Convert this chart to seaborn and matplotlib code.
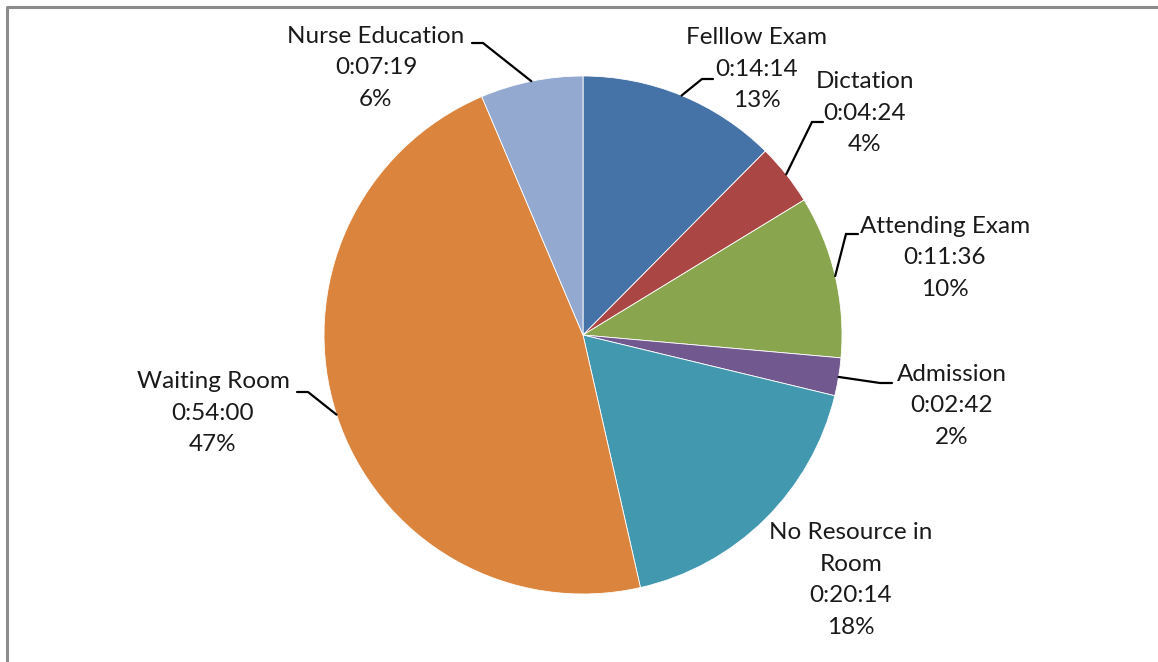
import numpy as np
import matplotlib
matplotlib.use('Agg')
import matplotlib.pyplot as plt
import seaborn as sns

# slices, clockwise from 12 o'clock
categories = ['Felllow Exam', 'Dictation', 'Attending Exam', 'Admission',
              'No Resource in\nRoom', 'Waiting Room', 'Nurse Education']
durations = ['0:14:14', '0:04:24', '0:11:36', '0:02:42', '0:20:14', '0:54:00', '0:07:19']
percent_labels = ['13%', '4%', '10%', '2%', '18%', '47%', '6%']
colors = ['#4572A7', '#AA4643', '#89A54E', '#71588F', '#4198AF', '#DB843D', '#93A9CF']


def to_seconds(s):
    h, m, sec = s.split(':')
    return int(h) * 3600 + int(m) * 60 + int(sec)


values = np.array([to_seconds(d) for d in durations])

sns.set_theme(style='white')
plt.rcParams['font.family'] = ['Lato', 'DejaVu Sans']

W, H = 1158, 662
fig = plt.figure(figsize=(W / 100, H / 100), dpi=100)
ax = fig.add_axes([0, 0, 1, 1])

cx, cy, r = 583, H - 335, 259
ax.pie(values, colors=colors, startangle=90, counterclock=False,
       center=(cx, cy), radius=r, frame=True,
       wedgeprops=dict(linewidth=0.6, edgecolor='white'))
ax.set_xlim(0, W)
ax.set_ylim(0, H)
ax.axis('off')

# label layout (image pixel coords): text centre, leader elbow, leader end at text
label_pos = [(757, 69), (865, 113), (945, 258), (952, 406), (851, 580), (213, 413), (376, 68)]
leaders = [((702, 79), (713, 79)), ((812, 122), (823, 122)), ((846, 234), (858, 234)),
           ((880, 383), (892, 383)), None, ((308, 392), (297, 392)), ((483, 43), (472, 43))]

cum = np.cumsum(values) - values / 2
mid_ang = np.deg2rad(90 - cum / values.sum() * 360)

for i, cat in enumerate(categories):
    x, y = label_pos[i]
    ax.text(x, H - y, f'{cat}\n{durations[i]}\n{percent_labels[i]}', ha='center', va='center',
            fontsize=17.5, linespacing=1.62, color='#1a1a1a')
    if leaders[i] is not None:
        ex = cx + r * np.cos(mid_ang[i])
        ey = cy + r * np.sin(mid_ang[i])
        (bx, by), (tx, ty) = leaders[i]
        ax.plot([ex, bx, tx], [ey, H - by, H - ty], color='black', lw=1.6,
                solid_joinstyle='miter')

# chart area border
ax.plot([7, 7, W], [0, H - 7, H - 7], color='#8c8c8c', lw=2.2, clip_on=False)

fig.savefig('out.png', dpi=100, facecolor='white')
